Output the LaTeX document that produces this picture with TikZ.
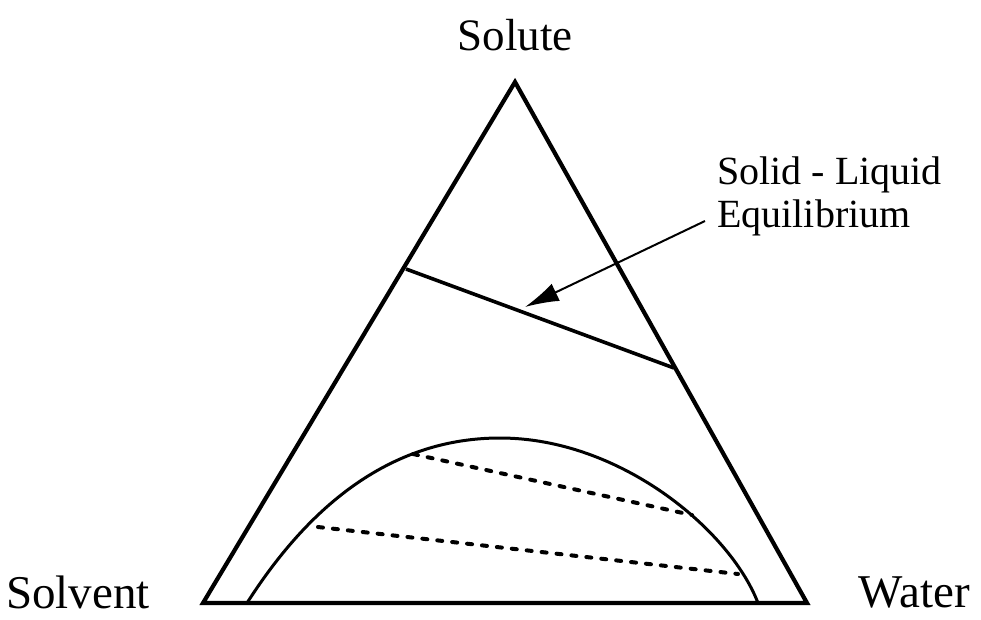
\documentclass[tikz,border=0pt]{standalone}
\usepackage{fontspec}
\setmainfont{Liberation Serif}
\usetikzlibrary{arrows.meta}
\begin{document}
\begin{tikzpicture}[x=1pt,y=-1pt,
  edge/.style={line width=4.2pt,line join=miter},
  tieline/.style={line width=3.6pt},
  arcline/.style={line width=3pt},
  dashtie/.style={line width=4pt,line cap=round,dash pattern=on 5pt off 10pt},
  lbl/.style={font=\fontsize{45}{50}\selectfont,inner sep=0pt},
  cornerlbl/.style={font=\fontsize{47}{52}\selectfont,inner sep=0pt},
  note/.style={font=\fontsize{40}{46}\selectfont,inner sep=0pt,align=left}]
\useasboundingbox (0,0) rectangle (981,619);
\coordinate (A) at (515,82);
\coordinate (L) at (203,603);
\coordinate (R) at (807,603);
\draw[edge] (L) -- (A) -- (R) -- cycle;
\coordinate (T1) at (406,269);
\coordinate (T2) at (674,368);
\draw[tieline] (T1) -- (T2);
\coordinate (B1) at (247,603);
\coordinate (Bp) at (500,438);
\coordinate (B2) at (758,603);
\draw[arcline] (B1) .. controls (300,520) and (380,438) .. (Bp)
  .. controls (620,438) and (730,530) .. (B2);
\coordinate (D1a) at (413,454);
\coordinate (D1b) at (692,515);
\coordinate (D2a) at (318,527);
\coordinate (D2b) at (738,574);
\draw[dashtie] (D1a) -- (D1b);
\draw[dashtie] (D2a) -- (D2b);
\node[lbl] (solute) at (515,35) {Solute};
\node[cornerlbl,anchor=west] (solvent) at (6,592) {Solvent};
\node[cornerlbl,anchor=east] (water) at (970,592) {Water};
\node[note,anchor=west] (sle1) at (717,175) {Solid - Liquid};
\node[note,anchor=west] (sle2) at (717,218) {Equilibrium};
\coordinate (tail) at (705,221);
\coordinate (tip) at (525,307);
\draw[line width=2pt,-{Latex[length=34pt,width=19pt]}] (tail) -- (tip);
\end{tikzpicture}
\end{document}
